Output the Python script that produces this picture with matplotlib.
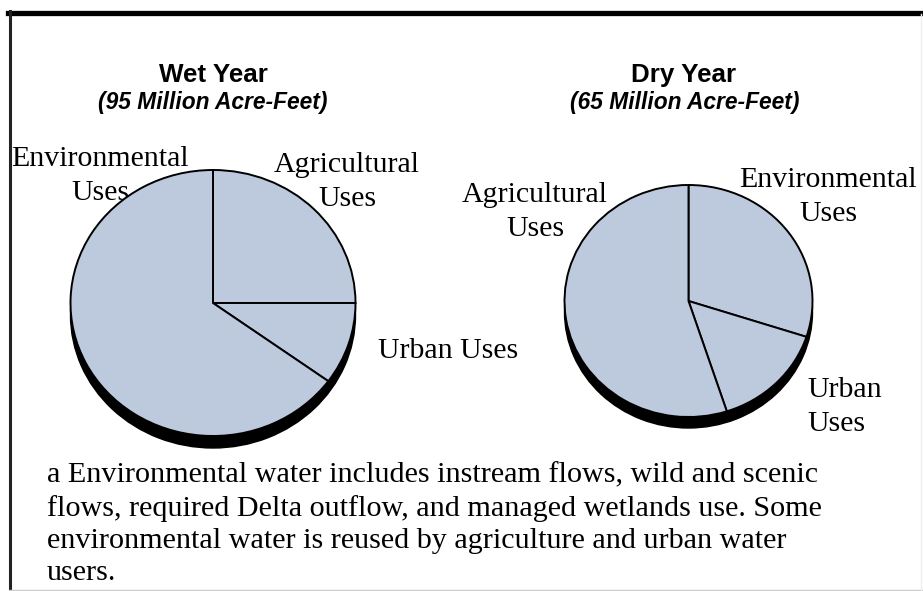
import matplotlib
matplotlib.use('Agg')
import matplotlib.pyplot as plt
from matplotlib.lines import Line2D

# data (percent of total)
wet_labels = ['Agricultural', 'Urban', 'Environmental']
wet_values = [25, 10, 65]
dry_labels = ['Environmental', 'Urban', 'Agricultural']
dry_values = [30, 15, 55]

wet_title = 'Wet Year'
wet_sub = '(95 Million Acre-Feet)'
dry_title = 'Dry Year'
dry_sub = '(65 Million Acre-Feet)'

note = ('a Environmental water includes instream flows, wild and scenic\n'
        'flows, required Delta outflow, and managed wetlands use. Some\n'
        'environmental water is reused by agriculture and urban water\n'
        'users.')

W, H = 923, 591
FILL = '#bdc9dd'
SANS = 'Liberation Sans'
SERIF = 'Liberation Serif'

fig = plt.figure(figsize=(W / 100, H / 100), dpi=100)
fig.patch.set_facecolor('white')

# background axes in pixel units for the text
bg = fig.add_axes([0, 0, 1, 1])
bg.set_xlim(0, W)
bg.set_ylim(H, 0)
bg.axis('off')

# frame round the figure
bg.add_line(Line2D([8, W], [12.5, 12.5], color='black', lw=3.8))
bg.add_line(Line2D([9.5, 9.5], [11, H], color='#222222', lw=2.2))
bg.add_line(Line2D([9, W], [589.5, 589.5], color='#cccccc', lw=1))
bg.add_line(Line2D([921, 921], [14, H], color='#eeeeee', lw=1))


def pie_axes(cx, cy, rx, ry, drop):
    left = cx - rx
    top = cy - ry
    bottom = cy + ry + drop
    ax = fig.add_axes([left / W, (H - bottom) / H, 2 * rx / W, (bottom - top) / H])
    return ax


def draw_pie(ax, values, ry, drop):
    d = drop / ry
    # black shadow under the pie
    ax.pie([1], colors=['black'], center=(0, -d), startangle=90,
           wedgeprops=dict(edgecolor='black', linewidth=1, clip_on=False))
    ax.pie(values, colors=[FILL] * len(values), startangle=90, counterclock=False,
           wedgeprops=dict(edgecolor='black', linewidth=1.4, clip_on=False))
    ax.set_xlim(-1, 1)
    ax.set_ylim(-1 - d, 1)
    ax.set_aspect('auto')
    ax.axis('off')


ax1 = pie_axes(213, 303, 142.5, 133, 12)
draw_pie(ax1, wet_values, 133, 12)
ax2 = pie_axes(688.5, 301, 124, 116, 11)
draw_pie(ax2, dry_values, 116, 11)

# titles
bg.text(213, 75, wet_title, family=SANS, weight='bold', fontsize=18.7, ha='center', va='center')
bg.text(213, 103, wet_sub, family=SANS, weight='bold', style='italic', fontsize=16.4,
        ha='center', va='center')
bg.text(684, 75, dry_title, family=SANS, weight='bold', fontsize=18.7, ha='center', va='center')
bg.text(685, 103, dry_sub, family=SANS, weight='bold', style='italic', fontsize=16.4,
        ha='center', va='center')

lab = dict(family=SERIF, fontsize=21.5, linespacing=1.4)
# wet year labels
bg.text(100, 176, wet_labels[2] + '\nUses', ha='center', va='center', **lab)
bg.text(347, 182, wet_labels[0] + '\nUses', ha='center', va='center', **lab)
bg.text(378, 351, wet_labels[1] + ' Uses', ha='left', va='center', **lab)
# dry year labels
bg.text(535, 212, dry_labels[2] + '\nUses', ha='center', va='center', **lab)
bg.text(828, 197, dry_labels[0] + '\nUses', ha='center', va='center', **lab)
bg.text(807, 407, dry_labels[1] + '\nUses', ha='left', va='center', **lab)

# footnote
bg.text(47, 524, note, family=SERIF, fontsize=21.7, ha='left', va='center', linespacing=1.31)

fig.savefig('out.png', dpi=100)
